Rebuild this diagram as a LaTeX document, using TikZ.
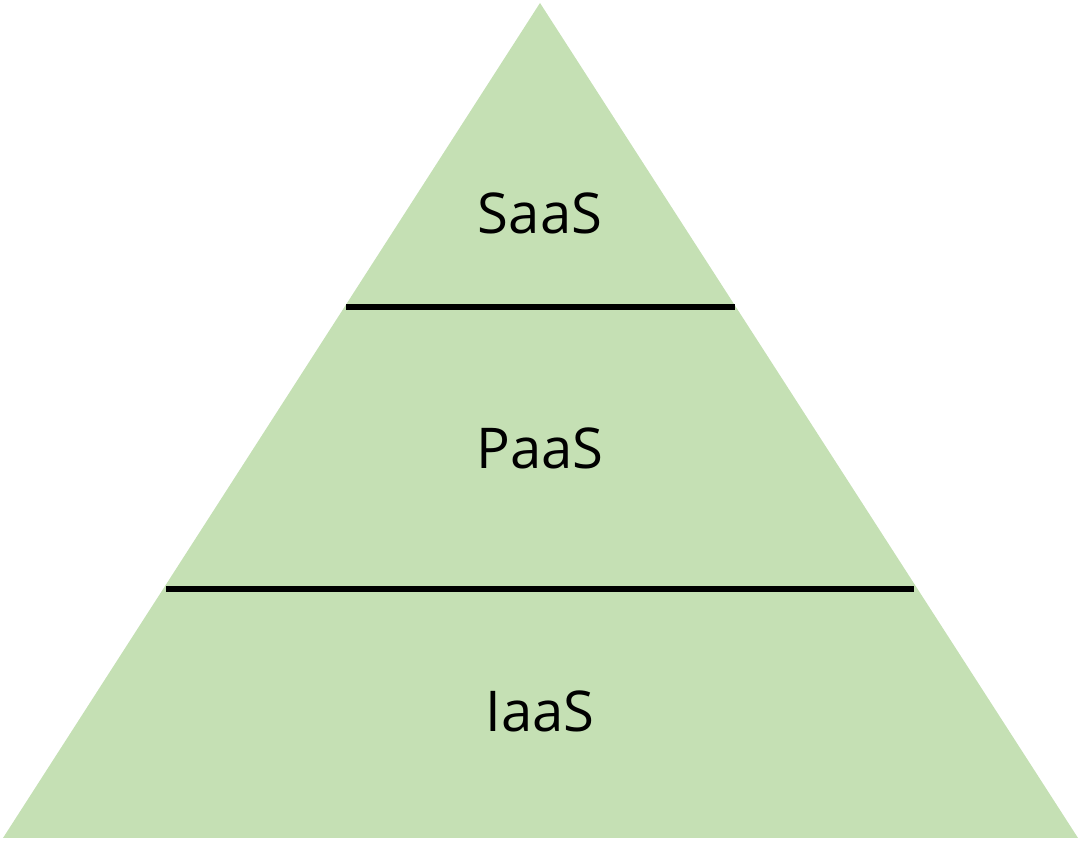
\documentclass[tikz,border=0pt]{standalone}
\usepackage{fontspec}
\setmainfont{Open Sans}
\usepackage{tikz}
\usetikzlibrary{positioning, calc}
\definecolor{layergreen}{HTML}{C5E0B4}

\begin{document}
\begin{tikzpicture}[
    layer/.style={font=\fontsize{16}{19}\selectfont, text=black},
    divider/.style={line width=1.45pt, black}
]
\useasboundingbox (0,0) rectangle (10.8,8.41);

% Pyramid
\coordinate (apex) at (5.40,8.38);
\coordinate (bl) at (0.03,0.03);
\coordinate (br) at (10.78,0.03);
\fill[layergreen] (bl) -- (apex) -- (br) -- cycle;

% Dividers
\coordinate (d1l) at (3.46,5.34);
\coordinate (d1r) at (7.35,5.34);
\coordinate (d2l) at (1.66,2.52);
\coordinate (d2r) at (9.14,2.52);
\draw[divider] (d1l) -- (d1r);
\draw[divider] (d2l) -- (d2r);

% Labels
\node[layer] (saas) at (5.40,6.28) {SaaS};
\node[layer] (paas) at (5.40,3.93) {PaaS};
\node[layer] (iaas) at (5.40,1.30) {IaaS};

\end{tikzpicture}
\end{document}
